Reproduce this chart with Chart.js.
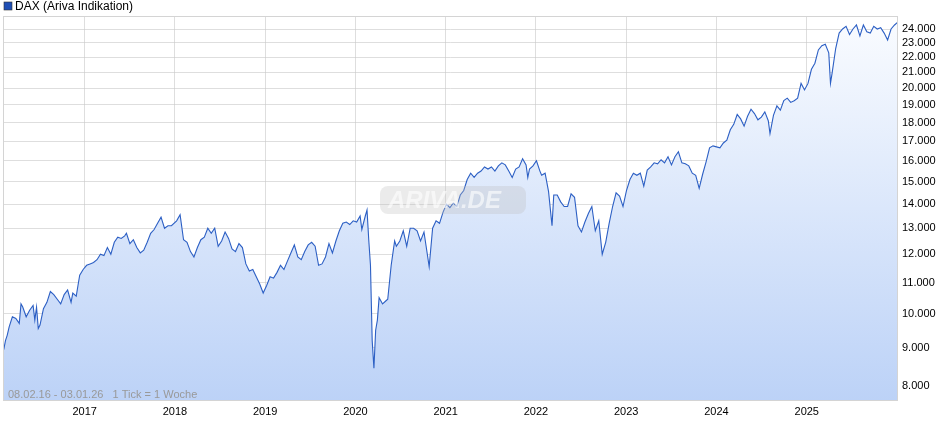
<!DOCTYPE html>
<html><head><meta charset="utf-8">
<script src="https://cdn.jsdelivr.net/npm/chart.js@4"></script>
<style>html,body{margin:0;padding:0;background:#fff}#c{display:block}</style>
</head><body>
<div style="width:940px;height:435px"><canvas id="c"></canvas></div>
<script>
const seriesName = "DAX (Ariva Indikation)";
const dates = [
"2016-02-08","2016-02-15","2016-02-22","2016-03-01","2016-03-14","2016-03-28","2016-04-11","2016-04-18","2016-04-25","2016-05-09","2016-05-23","2016-06-06","2016-06-13","2016-06-20","2016-06-27","2016-07-04","2016-07-18","2016-08-01","2016-08-15","2016-08-29","2016-09-12","2016-09-26","2016-10-10","2016-10-24","2016-11-07","2016-11-14","2016-11-28","2016-12-05","2016-12-12","2016-12-26",
"2017-01-09","2017-01-23","2017-02-06","2017-02-20","2017-03-06","2017-03-20","2017-04-03","2017-04-17","2017-05-01","2017-05-15","2017-05-29","2017-06-12","2017-06-19","2017-07-03","2017-07-17","2017-07-31","2017-08-14","2017-08-28","2017-09-11","2017-09-25","2017-10-09","2017-10-23","2017-11-06","2017-11-20","2017-12-04","2017-12-18",
"2018-01-08","2018-01-22","2018-02-05","2018-02-19","2018-03-05","2018-03-19","2018-04-02","2018-04-16","2018-04-30","2018-05-14","2018-05-28","2018-06-11","2018-06-25","2018-07-09","2018-07-23","2018-08-06","2018-08-20","2018-09-03","2018-09-17","2018-10-01","2018-10-15","2018-10-29","2018-11-12","2018-11-26","2018-12-10","2018-12-24",
"2019-01-07","2019-01-21","2019-02-04","2019-02-18","2019-03-04","2019-03-18","2019-04-01","2019-04-15","2019-04-29","2019-05-13","2019-05-27","2019-06-10","2019-06-24","2019-07-08","2019-07-22","2019-08-05","2019-08-19","2019-09-02","2019-09-16","2019-09-30","2019-10-14","2019-10-28","2019-11-11","2019-11-25","2019-12-09","2019-12-23",
"2020-01-06","2020-01-20","2020-01-27","2020-02-10","2020-02-17","2020-02-24","2020-03-02","2020-03-09","2020-03-16","2020-03-23","2020-03-30","2020-04-06","2020-04-20","2020-05-04","2020-05-11","2020-05-25","2020-06-08","2020-06-15","2020-06-29","2020-07-13","2020-07-27","2020-08-10","2020-08-24","2020-09-07","2020-09-21","2020-10-05","2020-10-26","2020-11-09","2020-11-23","2020-12-07","2020-12-21",
"2021-01-04","2021-01-18","2021-02-01","2021-02-15","2021-03-01","2021-03-15","2021-03-29","2021-04-12","2021-04-26","2021-05-10","2021-05-24","2021-06-07","2021-06-21","2021-07-05","2021-07-19","2021-08-02","2021-08-16","2021-08-30","2021-09-13","2021-09-27","2021-10-11","2021-10-25","2021-11-08","2021-11-22","2021-11-29","2021-12-06","2021-12-20",
"2022-01-03","2022-01-17","2022-01-24","2022-02-07","2022-02-21","2022-03-07","2022-03-14","2022-03-28","2022-04-11","2022-04-25","2022-05-09","2022-05-23","2022-06-06","2022-06-20","2022-07-04","2022-07-18","2022-08-01","2022-08-15","2022-08-29","2022-09-12","2022-09-26","2022-10-10","2022-10-24","2022-11-07","2022-11-21","2022-12-05","2022-12-19",
"2023-01-02","2023-01-16","2023-01-30","2023-02-13","2023-02-27","2023-03-13","2023-03-27","2023-04-10","2023-04-24","2023-05-08","2023-05-22","2023-06-05","2023-06-19","2023-07-03","2023-07-17","2023-07-31","2023-08-14","2023-08-28","2023-09-11","2023-09-25","2023-10-09","2023-10-23","2023-11-06","2023-11-20","2023-12-04","2023-12-18",
"2024-01-01","2024-01-15","2024-01-29","2024-02-12","2024-02-26","2024-03-11","2024-03-25","2024-04-08","2024-04-22","2024-05-06","2024-05-20","2024-06-03","2024-06-17","2024-07-01","2024-07-15","2024-07-29","2024-08-05","2024-08-19","2024-09-02","2024-09-16","2024-09-30","2024-10-14","2024-10-28","2024-11-11","2024-11-25","2024-12-09","2024-12-23",
"2025-01-06","2025-01-20","2025-02-03","2025-02-17","2025-03-03","2025-03-17","2025-03-31","2025-04-07","2025-04-14","2025-04-28","2025-05-12","2025-05-26","2025-06-09","2025-06-23","2025-07-07","2025-07-21","2025-08-04","2025-08-18","2025-09-01","2025-09-15","2025-09-29","2025-10-13","2025-10-27","2025-11-10","2025-11-24","2025-12-08","2025-12-22",
"2026-01-03"];
const values = [
8950,9200,9350,9600,9900,9850,9700,10300,10200,9900,10100,10250,9800,10200,9550,9650,10150,10350,10700,10600,10450,10300,10600,10750,10350,10650,10550,10900,11250,11450,
11600,11650,11700,11800,12000,11950,12250,12000,12450,12650,12600,12700,12800,12400,12550,12250,12050,12150,12450,12800,12950,13200,13450,13000,13100,13100,
13300,13550,12550,12450,12100,11900,12250,12550,12650,13000,12800,13000,12300,12500,12850,12600,12200,12100,12400,12250,11650,11400,11450,11200,10950,10650,
10900,11200,11150,11350,11600,11450,11750,12050,12350,11900,11800,12100,12350,12450,12300,11600,11650,11900,12400,12050,12500,12900,13200,13250,13150,13300,
13250,13500,12950,13500,13750,12550,11600,9200,8450,9500,9800,10500,10300,10400,10450,11600,12500,12300,12500,12900,12300,13000,13000,12900,12500,12850,11550,13000,13300,13200,13650,
14000,13850,14050,13900,14400,14600,15100,15400,15200,15400,15500,15700,15600,15700,15500,15750,15900,15800,15500,15200,15600,15700,16100,15800,15200,15600,15750,
16000,15500,15300,15400,14550,13100,14400,14400,14100,13900,13900,14450,14300,13100,12850,13250,13600,13900,12900,13300,12000,12450,13200,13900,14500,14350,13900,
14600,15100,15400,15300,15400,14800,15550,15700,15900,15850,16050,15900,16200,15800,16200,16450,15900,15850,15750,15400,15300,14700,15350,15950,16650,16750,
16700,16650,16900,17050,17600,17900,18450,18200,17800,18350,18750,18500,18150,18300,18600,18100,17400,18400,18950,18700,19250,19400,19150,19250,19400,20300,19900,
20300,21200,21600,22500,22800,22900,22300,20300,21000,22600,23700,24000,24200,23600,24000,24300,23500,24300,23800,23700,24200,24000,24100,23700,23200,24000,24300,
24500];
const yTicks = [8000,9000,10000,11000,12000,13000,14000,15000,16000,17000,18000,19000,20000,21000,22000,23000,24000];
const xTickYears = [2017,2018,2019,2020,2021,2022,2023,2024,2025];
const rangeLabel = "08.02.16 - 03.01.26   1 Tick = 1 Woche";

function toYear(s){const d=new Date(s+"T00:00:00Z");const y=d.getUTCFullYear();const st=Date.UTC(y,0,1),en=Date.UTC(y+1,0,1);return y+(d-st)/(en-st);}
const pts = dates.map((d,i)=>({x:toYear(d),y:values[i]}));
const FONT = "'Liberation Sans', Arial, sans-serif";

const deco = {
  id:'deco',
  afterDatasetsDraw(chart){
    const {ctx}=chart;
    ctx.save();
    const wx=380, wy=186;
    ctx.fillStyle='rgba(190,190,190,0.3)';
    ctx.beginPath();ctx.roundRect(wx,wy,146,28,8);ctx.fill();
    ctx.font="italic bold 24px "+FONT;ctx.fillStyle='rgba(255,255,255,0.6)';
    ctx.textBaseline='middle';ctx.fillText('ARIVA.DE',wx+8,wy+15);
    ctx.restore();
  },
  afterDraw(chart){
    const {ctx,chartArea:a}=chart;
    ctx.save();
    ctx.strokeStyle='#d4d4d4';ctx.lineWidth=1;
    ctx.strokeRect(a.left+0.5,a.top+0.5,a.right-a.left-1,a.bottom-a.top-1);
    ctx.font="11px "+FONT;ctx.textBaseline='middle';
    ctx.fillStyle='#999';ctx.fillText(rangeLabel,8,395);
    ctx.fillStyle='#1f4fb5';ctx.fillRect(4,2,8,8);
    ctx.strokeStyle='#333';ctx.lineWidth=0.6;ctx.strokeRect(4,2,8,8);
    ctx.fillStyle='#000';ctx.font="12px "+FONT;ctx.fillText(seriesName,15,6.5);
    ctx.restore();
  }
};

new Chart(document.getElementById('c'),{
  type:'line',
  data:{datasets:[{label:seriesName,data:pts,borderColor:'#2c5fc4',borderWidth:1.1,pointRadius:0,tension:0,
    fill:'start',
    backgroundColor(ctx){const a=ctx.chart.chartArea;if(!a)return 'rgba(190,210,245,0.8)';
      const g=ctx.chart.ctx.createLinearGradient(0,a.top,0,a.bottom);
      g.addColorStop(0,'rgba(250,252,255,1)');g.addColorStop(1,'rgba(188,210,247,1)');return g;}}]},
  options:{
    responsive:true,maintainAspectRatio:false,animation:false,
    layout:{padding:{top:16,left:3,right:0,bottom:0}},
    plugins:{legend:{display:false},tooltip:{enabled:false}},
    scales:{
      x:{type:'linear',min:toYear("2016-02-05"),max:toYear("2026-01-05"),
        afterBuildTicks(s){s.ticks=xTickYears.map(v=>({value:v}));},
        ticks:{callback:v=>String(v),color:'#000',font:{family:FONT,size:11},maxRotation:0,padding:4},
        grid:{color:'rgba(200,200,200,0.6)',drawTicks:false},border:{display:false},
        afterFit(s){s.height=34;}},
      y:{type:'logarithmic',position:'right',min:7640,max:24980,
        afterBuildTicks(s){s.ticks=yTicks.map(v=>({value:v}));},
        ticks:{callback:v=>v.toLocaleString('de-DE'),color:'#000',font:{family:FONT,size:11},padding:4,autoSkip:false},
        grid:{color:'rgba(200,200,200,0.6)',drawTicks:false},border:{display:false},
        afterFit(s){s.width=42;}}
    }
  },
  plugins:[deco]
});
</script></body></html>
